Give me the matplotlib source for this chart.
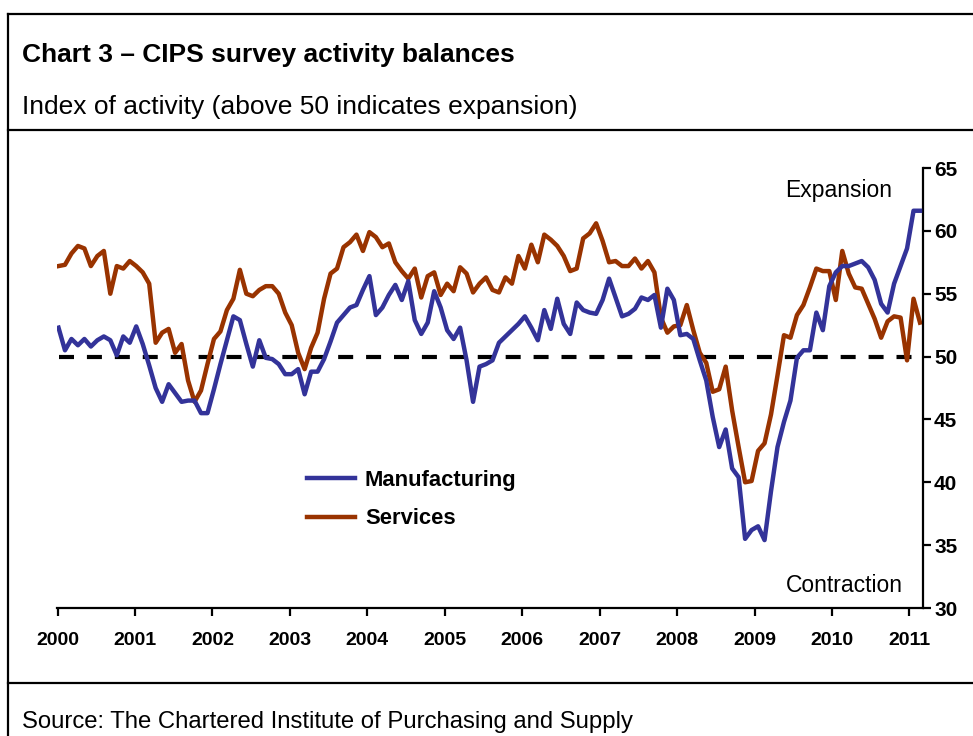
import numpy as np
import matplotlib
matplotlib.use("Agg")
import matplotlib.pyplot as plt
from matplotlib.lines import Line2D

plt.rcParams['font.family'] = ['Liberation Sans', 'DejaVu Sans']

# ---- data (monthly, Jan 2000 - Feb 2011) ----
manufacturing = [
    52.3, 50.5, 51.4, 50.9, 51.4, 50.8, 51.3, 51.6, 51.3, 50.1, 51.6, 51.1,   # 2000
    52.4, 51.0, 49.3, 47.5, 46.4, 47.8, 47.1, 46.4, 46.5, 46.5, 45.5, 45.5,   # 2001
    47.4, 49.4, 51.3, 53.2, 52.9, 51.0, 49.2, 51.3, 49.9, 49.8, 49.4, 48.6,   # 2002
    48.6, 49.0, 47.0, 48.8, 48.8, 49.8, 51.2, 52.7, 53.3, 53.9, 54.1, 55.3,   # 2003
    56.4, 53.3, 53.9, 54.9, 55.7, 54.5, 56.0, 52.9, 51.8, 52.7, 55.2, 53.9,   # 2004
    52.1, 51.4, 52.3, 49.7, 46.4, 49.2, 49.4, 49.7, 51.1, 51.6, 52.1, 52.6,   # 2005
    53.2, 52.3, 51.3, 53.7, 52.2, 54.6, 52.6, 51.8, 54.3, 53.7, 53.5, 53.4,   # 2006
    54.5, 56.2, 54.7, 53.2, 53.4, 53.8, 54.7, 54.5, 54.9, 52.3, 55.4, 54.5,   # 2007
    51.7, 51.8, 51.4, 49.7, 48.1, 45.2, 42.8, 44.2, 41.1, 40.4, 35.5, 36.2,   # 2008
    36.5, 35.4, 39.3, 42.8, 44.8, 46.5, 49.9, 50.5, 50.5, 53.5, 52.1, 55.6,   # 2009
    56.7, 57.2, 57.2, 57.4, 57.6, 57.1, 56.1, 54.2, 53.5, 55.8, 57.2, 58.6,   # 2010
    61.6, 61.6,                                                               # 2011
]
services = [
    57.2, 57.3, 58.2, 58.8, 58.6, 57.2, 58.0, 58.4, 55.0, 57.2, 57.0, 57.6,   # 2000
    57.2, 56.7, 55.8, 51.1, 51.9, 52.2, 50.3, 51.0, 48.1, 46.4, 47.3, 49.4,   # 2001
    51.4, 52.0, 53.7, 54.6, 56.9, 55.0, 54.8, 55.3, 55.6, 55.6, 55.0, 53.5,   # 2002
    52.5, 50.3, 49.0, 50.7, 51.9, 54.6, 56.6, 57.0, 58.7, 59.1, 59.7, 58.4,   # 2003
    59.9, 59.5, 58.7, 59.0, 57.5, 56.8, 56.2, 57.0, 54.7, 56.4, 56.7, 54.9,   # 2004
    55.8, 55.2, 57.1, 56.6, 55.1, 55.8, 56.3, 55.3, 55.1, 56.3, 55.8, 58.0,   # 2005
    57.0, 58.9, 57.5, 59.7, 59.3, 58.8, 58.0, 56.8, 57.0, 59.4, 59.8, 60.6,   # 2006
    59.2, 57.5, 57.6, 57.2, 57.2, 57.8, 57.0, 57.6, 56.7, 53.1, 51.9, 52.4,   # 2007
    52.5, 54.1, 52.1, 50.3, 49.5, 47.2, 47.4, 49.2, 45.7, 42.8, 40.0, 40.1,   # 2008
    42.5, 43.1, 45.4, 48.5, 51.7, 51.5, 53.3, 54.1, 55.5, 57.0, 56.8, 56.8,   # 2009
    54.5, 58.4, 56.6, 55.5, 55.4, 54.2, 53.0, 51.5, 52.8, 53.2, 53.1, 49.7,   # 2010
    54.6, 52.7,                                                               # 2011
]
years = ['2000', '2001', '2002', '2003', '2004', '2005', '2006',
         '2007', '2008', '2009', '2010', '2011']
y_ticks = [30, 35, 40, 45, 50, 55, 60, 65]
threshold = 50

months = np.arange(len(manufacturing))

W, H = 973, 736
fig = plt.figure(figsize=(W / 100, H / 100), dpi=100)

# axes placement in pixels
ax_l, ax_r, ax_t, ax_b = 57, 923, 168, 608
ax = fig.add_axes([ax_l / W, 1 - ax_b / H, (ax_r - ax_l) / W, (ax_b - ax_t) / H])

blue = '#333399'
orange = '#993300'

ax.plot([months[0], months[-1]], [threshold, threshold], color='black', lw=3,
        dashes=(3.6, 3.1), solid_capstyle='butt', zorder=1)
ax.plot(months, manufacturing, color=blue, lw=3.2, label='Manufacturing', zorder=3)
ax.plot(months, services, color=orange, lw=3.2, label='Services', zorder=2)

# x limits: month 0 at px 58.5, month 133 at px 920
px_per_month = (920 - 58.5) / 133
ax.set_xlim(-(58.5 - ax_l) / px_per_month, 133 + (ax_r - 920) / px_per_month)
ax.set_ylim(30, 65)

year_ticks = [(57.5 + k * 77.45 - 58.5) / px_per_month for k in range(len(years))]
ax.set_xticks(year_ticks)
ax.set_xticklabels(years, fontsize=14, fontweight='bold')
ax.set_yticks(y_ticks)
ax.set_yticklabels([str(v) for v in y_ticks], fontsize=15, fontweight='bold')

ax.yaxis.tick_right()
for s in ['left', 'top']:
    ax.spines[s].set_visible(False)
for s in ['bottom', 'right']:
    ax.spines[s].set_linewidth(1.6)
    ax.spines[s].set_color('black')
ax.tick_params(axis='x', direction='out', length=6, width=1.6, pad=11)
ax.tick_params(axis='y', direction='out', length=6, width=1.6, pad=2)

ax.text((892 - ax_l) / (ax_r - ax_l), (ax_b - 191) / (ax_b - ax_t), 'Expansion',
        transform=ax.transAxes, ha='right', va='center', fontsize=16.5)
ax.text((903 - ax_l) / (ax_r - ax_l), (ax_b - 586) / (ax_b - ax_t), 'Contraction',
        transform=ax.transAxes, ha='right', va='center', fontsize=16.5)

leg = ax.legend(loc='upper left', bbox_to_anchor=((298 - ax_l) / (ax_r - ax_l),
                (ax_b - 461) / (ax_b - ax_t)), frameon=False,
                prop={'weight': 'bold', 'size': 15.8}, handlelength=2.2,
                labelspacing=0.8, handletextpad=0.45, borderaxespad=0)

# frame lines
def hline(y, x0=8, x1=973, lw=1.6):
    fig.add_artist(Line2D([x0 / W, x1 / W], [1 - y / H, 1 - y / H],
                          color='black', lw=lw, transform=fig.transFigure))

hline(14)
hline(130)
hline(683)
fig.add_artist(Line2D([8 / W, 8 / W], [1 - 14 / H, 0], color='black', lw=1.6,
                      transform=fig.transFigure))

fig.text(22 / W, 1 - 55 / H, 'Chart 3 – CIPS survey activity balances',
         fontsize=19, fontweight='bold', va='center', ha='left')
fig.text(22 / W, 1 - 107 / H, 'Index of activity (above 50 indicates expansion)',
         fontsize=19, va='center', ha='left')
fig.text(22 / W, 1 - 722 / H, 'Source: The Chartered Institute of Purchasing and Supply',
         fontsize=17.2, va='center', ha='left')

fig.savefig('out.png', dpi=100)
